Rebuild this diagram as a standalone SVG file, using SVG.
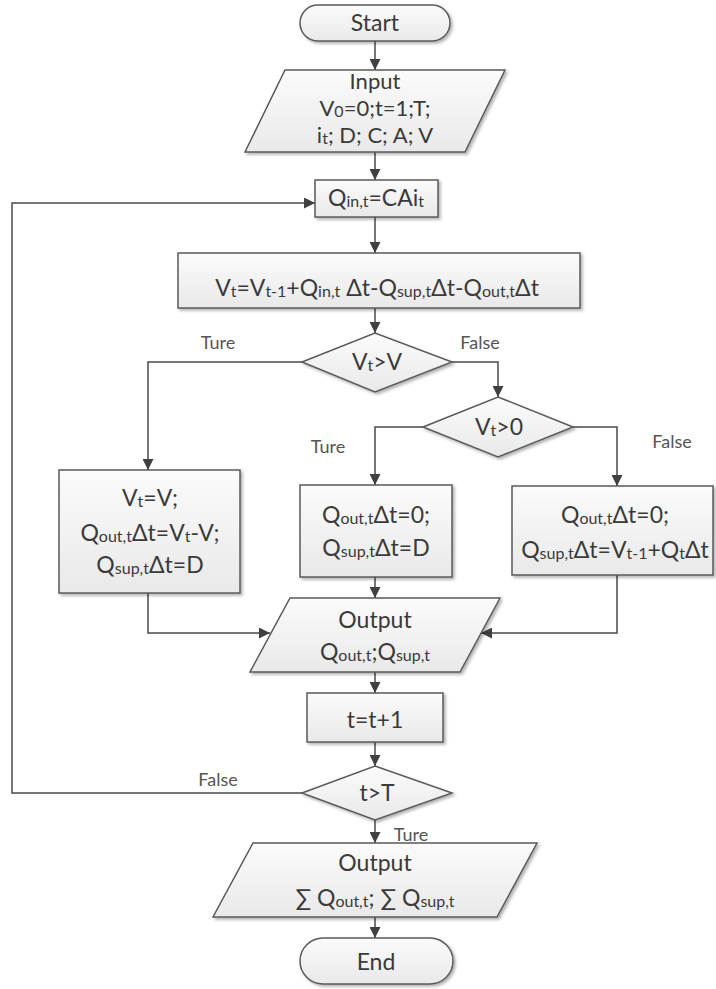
<svg xmlns="http://www.w3.org/2000/svg" width="716" height="989" viewBox="0 0 716 989">
<defs>
  <linearGradient id="g" x1="0" y1="0" x2="0" y2="1">
    <stop offset="0" stop-color="#fbfbfb"/>
    <stop offset="1" stop-color="#e9e9e9"/>
  </linearGradient>
  <filter id="sh" x="-10%" y="-10%" width="125%" height="130%">
    <feDropShadow dx="2" dy="2" stdDeviation="1.5" flood-color="#000" flood-opacity="0.3"/>
  </filter>
  <marker id="ar" viewBox="0 0 10 10" refX="10" refY="5" markerWidth="11" markerHeight="11" markerUnits="userSpaceOnUse" orient="auto">
    <path d="M0,0 L10,5 L0,10 z" fill="#404040"/>
  </marker>
  <style>
    .n{fill:url(#g);stroke:#5a5a5a;stroke-width:1.5;filter:url(#sh)}
    .t{font-family:Lato,"Open Sans","DejaVu Sans",sans-serif;font-size:23px;fill:#3a3a3a;text-anchor:middle}
    .i{font-size:22px}
    .s{font-size:16px}
    .l{font-family:Lato,"Open Sans","DejaVu Sans",sans-serif;font-size:18px;fill:#555;text-anchor:middle}
    .c{fill:none;stroke:#4a4a4a;stroke-width:1.5}
    .a{marker-end:url(#ar)}
  </style>
</defs>
<rect width="716" height="989" fill="#fff"/>

<g id="connectors">
  <path class="c a" d="M375,41 V70"/>
  <path class="c a" d="M375,152 V180"/>
  <path class="c a" d="M375,217 V253"/>
  <path class="c a" d="M375,308 V333"/>
  <path class="c a" d="M302,362 H148 V470"/>
  <path class="c a" d="M452,362 H498 V397"/>
  <path class="c a" d="M423,427 H375 V485"/>
  <path class="c a" d="M573,427 H617 V486"/>
  <path class="c a" d="M148,593 V633 H270"/>
  <path class="c a" d="M617,575 V633 H481"/>
  <path class="c a" d="M375,577 V598"/>
  <path class="c a" d="M375,672 V693"/>
  <path class="c a" d="M375,742 V766"/>
  <path class="c a" d="M302,793 H12 V203 H315"/>
  <path class="c a" d="M375,820 V843"/>
  <path class="c a" d="M375,917 V938"/>
  <text class="l" x="218" y="349">Ture</text>
  <text class="l" x="480" y="349">False</text>
  <text class="l" x="328" y="453">Ture</text>
  <text class="l" x="672" y="448">False</text>
  <text class="l" x="218" y="786">False</text>
  <text class="l" x="411" y="841">Ture</text>
</g>

<g id="start">
  <rect class="n" x="300" y="5" width="150" height="36" rx="18"/>
  <text class="t" x="375" y="31">Start</text>
</g>

<g id="input">
  <polygon class="n" points="285,70 505,70 465,152 245,152"/>
  <text class="t i" x="375" y="89">Input</text>
  <text class="t i" x="375" y="116">V<tspan class="s" dy="1">0</tspan><tspan dy="-1">=0;t=1;T;</tspan></text>
  <text class="t i" x="375" y="143">i<tspan class="s" dy="1">t</tspan><tspan dy="-1">; D; C; A; V</tspan></text>
</g>

<g id="qin">
  <rect class="n" x="315" y="180" width="123" height="37"/>
  <text class="t" x="376" y="206">Q<tspan class="s" dy="1">in,t</tspan><tspan dy="-1">=CAi</tspan><tspan class="s" dy="1">t</tspan></text>
</g>

<g id="vt">
  <rect class="n" x="178" y="253" width="402" height="55"/>
  <text class="t" x="377" y="296">V<tspan class="s" dy="1">t</tspan><tspan dy="-1">=V</tspan><tspan class="s" dy="1">t-1</tspan><tspan dy="-1">+Q</tspan><tspan class="s" dy="1">in,t</tspan><tspan dy="-1"> Δt-Q</tspan><tspan class="s" dy="1">sup,t</tspan><tspan dy="-1">Δt-Q</tspan><tspan class="s" dy="1">out,t</tspan><tspan dy="-1">Δt</tspan></text>
</g>

<g id="d1">
  <polygon class="n" points="302,362 375,333 452,362 375,392"/>
  <text class="t" x="377" y="370">V<tspan class="s" dy="1">t</tspan><tspan dy="-1">&gt;V</tspan></text>
</g>

<g id="d2">
  <polygon class="n" points="423,427 498,397 573,427 498,457"/>
  <text class="t" x="499" y="435">V<tspan class="s" dy="1">t</tspan><tspan dy="-1">&gt;0</tspan></text>
</g>

<g id="boxL">
  <rect class="n" x="59" y="470" width="181" height="123"/>
  <text class="t" x="150" y="506">V<tspan class="s" dy="1">t</tspan><tspan dy="-1">=V;</tspan></text>
  <text class="t" x="150" y="541">Q<tspan class="s" dy="1">out,t</tspan><tspan dy="-1">Δt=V</tspan><tspan class="s" dy="1">t</tspan><tspan dy="-1">-V;</tspan></text>
  <text class="t" x="150" y="573">Q<tspan class="s" dy="1">sup,t</tspan><tspan dy="-1">Δt=D</tspan></text>
</g>

<g id="boxM">
  <rect class="n" x="300" y="485" width="152" height="92"/>
  <text class="t" x="376" y="523">Q<tspan class="s" dy="1">out,t</tspan><tspan dy="-1">Δt=0;</tspan></text>
  <text class="t" x="376" y="556">Q<tspan class="s" dy="1">sup,t</tspan><tspan dy="-1">Δt=D</tspan></text>
</g>

<g id="boxR">
  <rect class="n" x="512" y="486" width="201" height="89"/>
  <text class="t" x="615" y="523">Q<tspan class="s" dy="1">out,t</tspan><tspan dy="-1">Δt=0;</tspan></text>
  <text class="t" x="615" y="558">Q<tspan class="s" dy="1">sup,t</tspan><tspan dy="-1">Δt=V</tspan><tspan class="s" dy="1">t-1</tspan><tspan dy="-1">+Q</tspan><tspan class="s" dy="1">t</tspan><tspan dy="-1">Δt</tspan></text>
</g>

<g id="output1">
  <polygon class="n" points="290,598 500,598 460,672 250,672"/>
  <text class="t" x="375" y="628">Output</text>
  <text class="t" x="375" y="660">Q<tspan class="s" dy="1">out,t</tspan><tspan dy="-1">;Q</tspan><tspan class="s" dy="1">sup,t</tspan></text>
</g>

<g id="inc">
  <rect class="n" x="307" y="693" width="136" height="49"/>
  <text class="t" x="375" y="728">t=t+1</text>
</g>

<g id="d3">
  <polygon class="n" points="302,793 375,766 452,793 375,820"/>
  <text class="t" x="377" y="801">t&gt;T</text>
</g>

<g id="output2">
  <polygon class="n" points="253,843 537,843 497,917 213,917"/>
  <text class="t" x="375" y="871">Output</text>
  <text class="t" x="375" y="906">∑ Q<tspan class="s" dy="1">out,t</tspan><tspan dy="-1">; ∑ Q</tspan><tspan class="s" dy="1">sup,t</tspan></text>
</g>

<g id="end">
  <rect class="n" x="300" y="938" width="153" height="46" rx="23"/>
  <text class="t" x="376" y="970">End</text>
</g>
</svg>
